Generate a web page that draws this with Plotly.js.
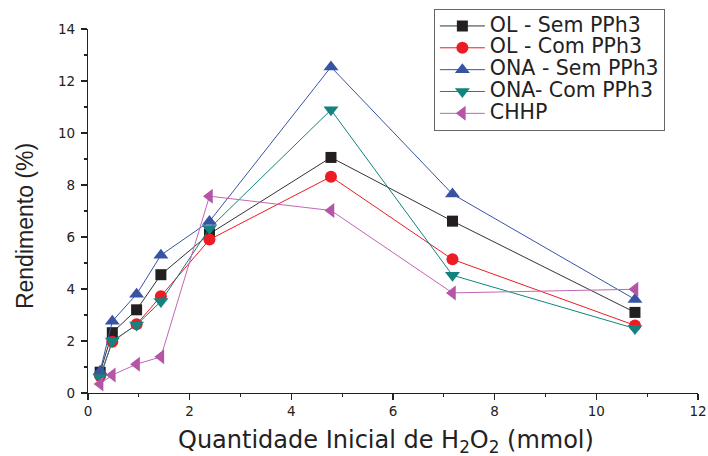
<!DOCTYPE html>
<html>
<head>
<meta charset="utf-8">
<script src="https://cdn.plot.ly/plotly-3.0.1.min.js"></script>
<style>html,body{margin:0;padding:0;background:#fff}#chart{width:708px;height:456px}</style>
</head>
<body>
<div id="chart"></div>
<script>
const h2o2 = [0.239, 0.478, 0.956, 1.434, 2.39, 4.78, 7.17, 10.76];
const olSem = [0.80, 2.32, 3.20, 4.55, 6.12, 9.06, 6.61, 3.10];
const olCom = [0.65, 1.97, 2.64, 3.72, 5.90, 8.32, 5.14, 2.60];
const onaSem = [0.84, 2.76, 3.80, 5.30, 6.60, 12.54, 7.65, 3.60];
const onaCom = [0.60, 2.00, 2.62, 3.52, 6.33, 10.89, 4.53, 2.48];
const chhp = [0.35, 0.69, 1.11, 1.39, 7.57, 7.02, 3.85, 3.99];
const names = ["OL - Sem PPh3", "OL - Com PPh3", "ONA - Sem PPh3", "ONA- Com PPh3", "CHHP"];
const xTitle = "Quantidade Inicial de H<sub>2</sub>O<sub>2</sub> (mmol)";
const yTitle = "Rendimento (%)";

const WIDE = "DejaVu Sans, Liberation Sans, Arial, sans-serif";
const NARROW = "Liberation Sans, Arial, sans-serif";
const legendName = n => '<span style="font-size:20.5px">' + n + '</span>';

const mk = (y, name, lineColor, markColor, symbol, size) => ({
  x: h2o2, y: y, name: legendName(name), type: "scatter", mode: "lines+markers",
  line: {color: lineColor, width: 1},
  marker: {color: markColor, symbol: symbol, size: size, line: {width: 0}}
});

const data = [
  mk(olSem, names[0], "#333333", "#231f20", "square", 11),
  mk(olCom, names[1], "#ed1c24", "#ed1c24", "circle", 12),
  mk(onaSem, names[2], "#3953a4", "#3953a4", "triangle-up", 13),
  mk(onaCom, names[3], "#12837f", "#12837f", "triangle-down", 13),
  mk(chhp, names[4], "#c266b4", "#b455a6", "triangle-left", 13)
];

const axisCommon = {
  showline: true, linecolor: "#222", linewidth: 1.2,
  ticks: "outside", ticklen: 6, tickcolor: "#222", tickwidth: 1.2,
  showgrid: false, zeroline: false, mirror: false,
  tickfont: {family: WIDE, size: 13.5, color: "#222"},
  minor: {ticks: "outside", ticklen: 3, tickcolor: "#222", dtick: 1, showgrid: false}
};

const layout = {
  width: 708, height: 456,
  margin: {l: 88, r: 10, t: 28, b: 63},
  paper_bgcolor: "#fff", plot_bgcolor: "#fff",
  showlegend: true,
  legend: {
    x: 0.567, y: 1.052, xanchor: "left", yanchor: "top",
    bordercolor: "#666", borderwidth: 1, bgcolor: "#fff",
    font: {family: WIDE, size: 14.5, color: "#222"},
    tracegroupgap: 0, itemwidth: 45
  },
  xaxis: Object.assign({}, axisCommon, {range: [0, 12], dtick: 2, tick0: 0}),
  yaxis: Object.assign({}, axisCommon, {range: [0, 14], dtick: 2, tick0: 0, ticklabelstandoff: 3}),
  annotations: [
    {text: xTitle, xref: "paper", yref: "paper", x: 0.4885, y: -0.133,
     xanchor: "center", yanchor: "middle", showarrow: false,
     font: {family: WIDE, size: 24, color: "#222"}},
    {text: yTitle, xref: "paper", yref: "paper", x: -0.103, y: 0.459,
     xanchor: "center", yanchor: "middle", showarrow: false, textangle: -90,
     font: {family: NARROW, size: 23, color: "#222"}}
  ]
};

Plotly.newPlot("chart", data, layout, {displayModeBar: false, staticPlot: true});
</script>
</body>
</html>
